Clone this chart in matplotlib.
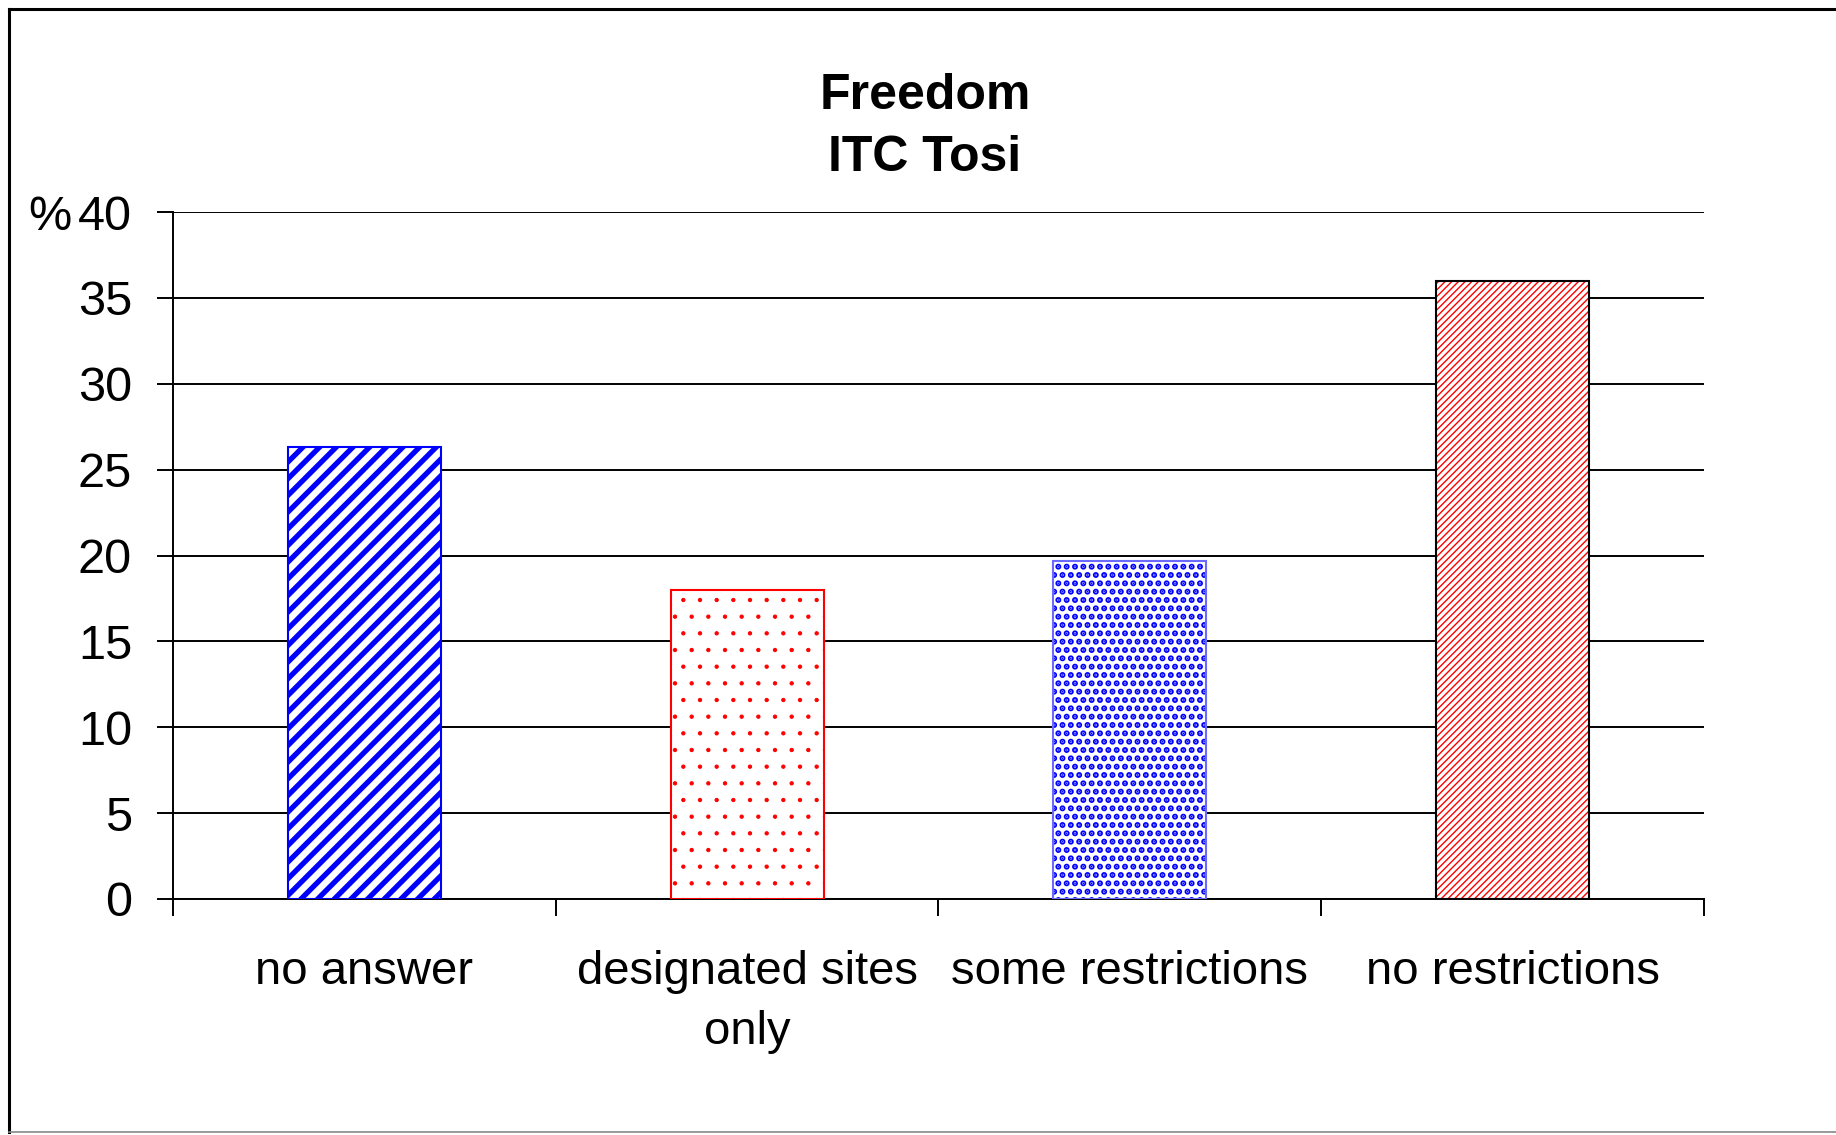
import numpy as np
import matplotlib
matplotlib.use("Agg")
import matplotlib.pyplot as plt
from matplotlib.lines import Line2D

plt.rcParams['font.family'] = ['Liberation Sans', 'DejaVu Sans']

categories = ["no answer", "designated sites\nonly", "some restrictions", "no restrictions"]
values = [26.3, 18.0, 19.7, 36.0]
yticks = [0, 5, 10, 15, 20, 25, 30, 35, 40]

# style per bar: (hatch colour, outline colour, hatch, hatch linewidth, outline lw)
styles = [
    ("#0000ff", "#0000ff", "//", 3.8, 1.5),
    ("#ff0000", "#ff0000", ".", 0.7, 1.5),
    ("#0000ff", "#6a6aff", "..", 3.0, 1.5),
    ("#ff0000", "#000000", "/////", 1.0, 1.5),
]

W, H = 1836, 1135
fig = plt.figure(figsize=(W / 100, H / 100), dpi=100)
ax = fig.add_axes([173 / W, 1 - 899 / H, (1704 - 173) / W, (899 - 212) / H])

x = np.arange(len(categories))
for xi, v, (hc, ec, hatch, hlw, elw) in zip(x, values, styles):
    plt.rcParams['hatch.linewidth'] = hlw
    b = ax.bar(xi, v, width=0.4, color="white", edgecolor=hc, linewidth=0.0,
               hatch=hatch, zorder=2)
    for p in b:
        if hasattr(p, "set_hatch_linewidth"):
            p.set_hatch_linewidth(hlw)
    ax.bar(xi, v, width=0.4, color="none", edgecolor=ec, linewidth=elw, zorder=3)

ax.set_xlim(-0.5, len(categories) - 0.5)
ax.set_ylim(0, 40)
ax.set_yticks(yticks)
ax.yaxis.grid(True, color="black", linewidth=1.4)
ax.set_axisbelow(True)

ax.set_xticks(np.arange(len(categories) + 1) - 0.5)
ax.set_xticklabels([])
ax.set_xticks(x, categories, minor=True)
ax.tick_params(axis="x", which="major", direction="out", length=12, width=1.4, color="black")
ax.tick_params(axis="x", which="minor", length=0, pad=37, labelsize=34)
ax.tick_params(axis="y", direction="out", length=11.5, width=1.4, pad=18, labelsize=35)
for lab in ax.get_xticklabels(minor=True):
    lab.set_linespacing(1.45)

for s in ["top", "right"]:
    ax.spines[s].set_visible(False)
ax.spines["left"].set_linewidth(1.4)
ax.spines["bottom"].set_linewidth(1.4)

ax.text(-0.066, 40, "%", transform=ax.get_yaxis_transform(), ha="right",
        va="center_baseline", fontsize=35)

fig.text(925 / W, 1 - 109 / H, "Freedom", ha="center", va="baseline",
         fontsize=36, fontweight="bold")
fig.text(925 / W, 1 - 171 / H, "ITC Tosi", ha="center", va="baseline",
         fontsize=36, fontweight="bold")

# outer chart frame
fig.add_artist(Line2D([9 / W, 9 / W], [1 - 9 / H, 1 - 1132 / H], transform=fig.transFigure,
                      color="black", linewidth=2.2))
fig.add_artist(Line2D([9 / W, 1.0], [1 - 9 / H, 1 - 9 / H], transform=fig.transFigure,
                      color="black", linewidth=2.2))
fig.add_artist(Line2D([9 / W, 1.0], [1 - 1132 / H, 1 - 1132 / H], transform=fig.transFigure,
                      color="#888888", linewidth=1.2))

fig.savefig("out.png", dpi=100)
